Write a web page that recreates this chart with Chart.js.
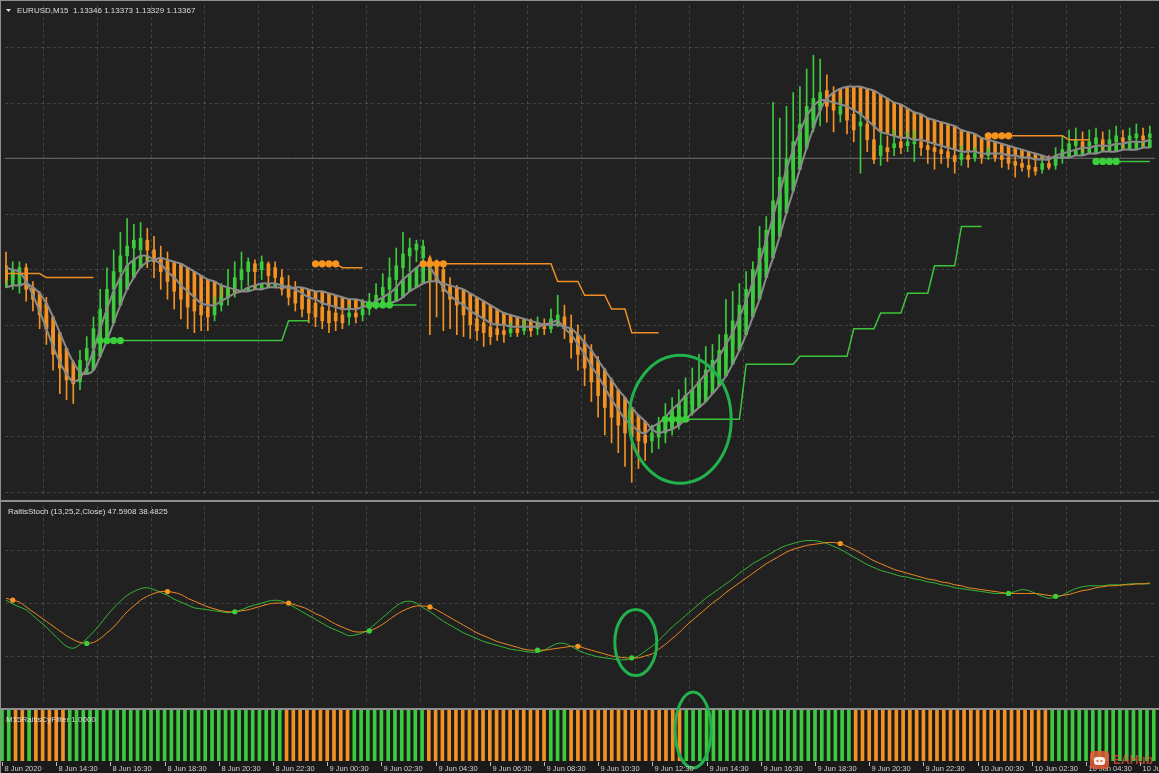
<!DOCTYPE html>
<html><head><meta charset="utf-8">
<script src="https://cdn.jsdelivr.net/npm/chart.js@4.4.0/dist/chart.umd.min.js"></script>
<style>
html,body{margin:0;padding:0;background:#8f8f8f;width:1159px;height:773px;overflow:hidden;position:relative;}
canvas{position:absolute;left:1px;}
#c1{top:1px;} #c2{top:502px;} #c3{top:688px;}
</style></head><body>
<canvas id="c1" width="1158" height="499"></canvas>
<canvas id="c2" width="1158" height="206"></canvas>
<canvas id="c3" width="1158" height="85"></canvas>
<script>
// ---------- DATA ----------
const mainTitle = "EURUSD,M15  1.13346 1.13373 1.13329 1.13367";
const stochTitle = "RaitisStoch (13,25,2,Close) 47.5908 38.4825";
const filterTitle = "M15RaitisCyFilter 1.0000";
const timeLabels = ["8 Jun 2020","8 Jun 14:30","8 Jun 16:30","8 Jun 18:30","8 Jun 20:30","8 Jun 22:30","9 Jun 00:30","9 Jun 02:30","9 Jun 04:30","9 Jun 06:30","9 Jun 08:30","9 Jun 10:30","9 Jun 12:30","9 Jun 14:30","9 Jun 16:30","9 Jun 18:30","9 Jun 20:30","9 Jun 22:30","10 Jun 00:30","10 Jun 02:30","10 Jun 04:30","10 Jun 06:30"];
const barsPerLabel = 8;

const openP = [
1.13035,1.1300,1.1302,1.1303,1.12975,1.1295,1.1291,1.12875,1.1281,1.12775,
1.1275,1.1274,1.12795,1.12825,1.12875,1.12925,1.12975,1.1302,1.1306,1.1308,
1.13075,1.1310,1.13075,1.13055,1.1303,1.13005,1.12985,1.1297,1.1295,1.12935,
1.1293,1.1291,1.12935,1.12955,1.12975,1.1300,1.1302,1.1304,1.13025,1.1304,
1.1303,1.13005,1.12985,1.1297,1.1296,1.1295,1.1294,1.1293,1.1292,1.12915,
1.1291,1.12905,1.12915,1.1291,1.12925,1.12945,1.1296,1.12975,1.1300,1.1303,
1.1306,1.13075,1.13055,1.13055,1.1304,1.13025,1.12975,1.12955,1.12945,1.1292,
1.1290,1.1289,1.1288,1.12875,1.1287,1.12865,1.12875,1.1287,1.1288,1.12875,
1.1288,1.12875,1.12895,1.12905,1.12875,1.1285,1.12825,1.12795,1.12765,1.1273,
1.1270,1.12675,1.1265,1.1263,1.1262,1.12605,1.1259,1.1260,1.1261,1.1262,
1.1264,1.1266,1.1268,1.1270,1.1272,1.1275,1.1277,1.1280,1.12835,1.12875,
1.1291,1.1295,1.13005,1.13045,1.1311,1.13175,1.1322,1.1328,1.13325,1.1336,
1.13405,1.1344,1.1348,1.1345,1.1342,1.1344,1.1342,1.1339,1.13395,1.13355,
1.13315,1.13335,1.13335,1.1335,1.1334,1.13345,1.1335,1.1334,1.13335,1.1333,
1.13325,1.13315,1.13305,1.13315,1.1331,1.1332,1.13315,1.1332,1.13315,1.1331,
1.1330,1.13295,1.1329,1.13285,1.1328,1.13295,1.1329,1.1331,1.13325,1.1334,
1.1335,1.1334,1.13345,1.13355,1.13345,1.1335,1.1336,1.13355,1.1336,1.13365,
1.1336];
const closeP = [
1.1300,1.1302,1.1303,1.12975,1.1295,1.1291,1.12875,1.1281,1.12775,1.12745,
1.12735,1.12795,1.12825,1.12875,1.12925,1.12975,1.1302,1.1306,1.13085,1.1310,
1.13105,1.13075,1.13045,1.1302,1.12995,1.1297,1.1295,1.1293,1.1292,1.1291,
1.12905,1.12935,1.12955,1.1298,1.13005,1.13025,1.13045,1.1302,1.13045,1.1301,
1.13005,1.12975,1.12955,1.1294,1.12925,1.12915,1.12905,1.12895,1.1289,1.12895,
1.1289,1.12915,1.12905,1.12925,1.12945,1.1296,1.1298,1.13005,1.13035,1.13065,
1.1308,1.1309,1.13085,1.13035,1.12995,1.1297,1.1295,1.12935,1.1291,1.12885,
1.1287,1.12865,1.12855,1.1286,1.1286,1.12875,1.12865,1.12885,1.1287,1.1288,
1.12875,1.1290,1.1291,1.12875,1.1284,1.1281,1.12775,1.1274,1.12705,1.12675,
1.1265,1.1263,1.1261,1.1260,1.1259,1.12585,1.1261,1.12625,1.1264,1.1266,
1.1268,1.12705,1.1272,1.1274,1.1277,1.12795,1.1282,1.1286,1.12895,1.12935,
1.12975,1.13025,1.1308,1.13125,1.1320,1.1326,1.13305,1.1335,1.13395,1.1344,
1.1346,1.13475,1.1344,1.1343,1.1344,1.13405,1.1338,1.1340,1.13355,1.13305,
1.1334,1.13325,1.13345,1.13335,1.1335,1.1335,1.13335,1.1333,1.13325,1.1332,
1.1331,1.1330,1.1332,1.13305,1.1332,1.1331,1.13325,1.1331,1.13305,1.13295,
1.1329,1.13285,1.1328,1.13275,1.13295,1.13285,1.1331,1.1333,1.13345,1.13355,
1.13335,1.1335,1.1336,1.1334,1.13355,1.13365,1.1335,1.13365,1.1337,1.13355,
1.1337];
const highP = [
1.1307,1.13045,1.13045,1.1304,1.12995,1.1297,1.12955,1.1290,1.1285,1.12825,
1.12795,1.1282,1.12855,1.12905,1.12975,1.1303,1.13075,1.1312,1.13155,1.1314,
1.13145,1.1313,1.1311,1.13085,1.1307,1.13045,1.1302,1.1300,1.1299,1.1297,
1.1296,1.12955,1.1299,1.13025,1.13045,1.1307,1.13055,1.1305,1.1306,1.13045,
1.13045,1.13025,1.1301,1.12995,1.1298,1.12975,1.12965,1.12955,1.1295,1.1294,
1.12935,1.12935,1.1294,1.1295,1.12965,1.1299,1.13015,1.13055,1.1308,1.1312,
1.13105,1.1310,1.1310,1.1306,1.1305,1.13045,1.13005,1.12985,1.1297,1.12955,
1.12935,1.1292,1.1291,1.12905,1.12895,1.1289,1.12895,1.1290,1.1290,1.12905,
1.1290,1.12925,1.1296,1.12935,1.1291,1.12885,1.1286,1.12835,1.12805,1.12775,
1.1275,1.1272,1.1270,1.12675,1.1265,1.12635,1.1263,1.1265,1.12685,1.1270,
1.1272,1.1275,1.12775,1.1281,1.1283,1.12835,1.1286,1.1295,1.1297,1.1299,
1.1302,1.13045,1.13135,1.1316,1.1345,1.1341,1.1344,1.13475,1.1349,1.13535,
1.1357,1.1356,1.1352,1.1349,1.1346,1.13475,1.1345,1.13425,1.13435,1.1341,
1.13375,1.13365,1.1338,1.1337,1.13375,1.1338,1.1337,1.13365,1.13355,1.1335,
1.1335,1.13345,1.1334,1.13335,1.13335,1.1334,1.13335,1.1334,1.13335,1.1333,
1.13325,1.1332,1.13315,1.1331,1.1331,1.13315,1.13335,1.13365,1.1338,1.13385,
1.13375,1.1338,1.13385,1.13375,1.1338,1.1339,1.1338,1.13385,1.13395,1.13385,
1.1339];
const lowP = [
1.1299,1.12975,1.12965,1.12945,1.1292,1.12875,1.12835,1.1277,1.1271,1.12695,
1.12685,1.1272,1.1277,1.12805,1.12855,1.1290,1.1295,1.12985,1.1303,1.13045,
1.13035,1.1303,1.13005,1.12975,1.1295,1.12925,1.1290,1.12875,1.12865,1.1287,
1.1287,1.12895,1.1292,1.12935,1.12955,1.1297,1.12985,1.12975,1.1300,1.1298,
1.1299,1.1296,1.12935,1.1292,1.12905,1.1289,1.1288,1.12875,1.12865,1.1287,
1.12875,1.12885,1.1289,1.12895,1.1291,1.12925,1.12935,1.1295,1.12975,1.12995,
1.1302,1.13045,1.1303,1.1286,1.12905,1.1287,1.12875,1.1286,1.12855,1.1285,
1.12845,1.1283,1.12835,1.12845,1.1284,1.12855,1.12855,1.1286,1.12855,1.1286,
1.1286,1.12865,1.1288,1.1285,1.1280,1.1277,1.1273,1.1269,1.1265,1.12605,
1.12585,1.1256,1.12525,1.12485,1.1252,1.1254,1.1256,1.1257,1.12585,1.12605,
1.1262,1.1264,1.12655,1.12675,1.12695,1.1272,1.1274,1.12775,1.1281,1.1284,
1.12885,1.1292,1.12975,1.1303,1.1308,1.13135,1.13175,1.1325,1.13285,1.1333,
1.13375,1.1339,1.1340,1.13375,1.1340,1.1337,1.1335,1.1327,1.13325,1.13295,
1.1329,1.1330,1.13315,1.1332,1.13325,1.1330,1.13315,1.13295,1.1328,1.13295,
1.13285,1.1327,1.1329,1.13285,1.1330,1.13295,1.13305,1.1330,1.13285,1.1328,
1.1326,1.13275,1.1326,1.13265,1.1327,1.1328,1.1328,1.13295,1.1331,1.13325,
1.13325,1.13325,1.1333,1.1333,1.1333,1.13335,1.13335,1.1334,1.1334,1.1334,
1.13345];
const fastMA = [
1.1303,1.13025,1.1302,1.12995,1.1296,1.1292,1.12875,1.1283,1.1279,1.1276,
1.1274,1.1275,1.12775,1.1282,1.12875,1.12925,1.1297,1.13005,1.13035,1.1305,
1.1306,1.1306,1.1305,1.1304,1.1302,1.13005,1.12985,1.1297,1.12955,1.1294,
1.12935,1.12935,1.12945,1.12955,1.12965,1.1297,1.1298,1.12985,1.1299,1.1299,
1.1299,1.12985,1.1298,1.12975,1.12965,1.12955,1.1295,1.1294,1.12935,1.1293,
1.12925,1.12925,1.12925,1.1293,1.12935,1.12945,1.12955,1.12965,1.1298,1.1300,
1.13015,1.1303,1.1304,1.1303,1.13005,1.1298,1.1296,1.12945,1.12935,1.1292,
1.1291,1.1290,1.1289,1.12885,1.12885,1.1288,1.1288,1.1288,1.1288,1.1288,
1.12885,1.1289,1.12895,1.12875,1.1286,1.12835,1.1281,1.1278,1.12755,1.12725,
1.12695,1.1267,1.12645,1.1263,1.12615,1.1261,1.12625,1.12635,1.1265,1.1267,
1.12685,1.12705,1.1272,1.1274,1.1276,1.1278,1.12805,1.12835,1.12865,1.12905,
1.12945,1.12995,1.13045,1.1310,1.1316,1.1322,1.1328,1.1333,1.13375,1.13415,
1.1344,1.13455,1.13455,1.1345,1.13445,1.1344,1.1343,1.1342,1.13405,1.1339,
1.13375,1.1337,1.13365,1.1336,1.1336,1.13355,1.13355,1.1335,1.13345,1.1334,
1.13335,1.1333,1.13325,1.13325,1.13325,1.1332,1.1332,1.1332,1.1332,1.13315,
1.13315,1.1331,1.1331,1.13305,1.13305,1.13305,1.13315,1.1332,1.13325,1.1333,
1.13335,1.13335,1.1334,1.1334,1.1334,1.13345,1.13345,1.1335,1.1335,1.1335,
1.13355];
const slowMA = [
1.1298,1.12985,1.12985,1.1299,1.1298,1.12965,1.1294,1.12905,1.12865,1.12825,
1.1279,1.12765,1.1276,1.1277,1.12805,1.12845,1.1289,1.12935,1.12975,1.13005,
1.1303,1.13045,1.1305,1.13055,1.1305,1.13045,1.1304,1.1303,1.1302,1.1301,
1.1300,1.12995,1.12985,1.1298,1.12975,1.1297,1.1297,1.12975,1.12975,1.1298,
1.1298,1.1298,1.1298,1.1298,1.1298,1.12975,1.1297,1.1297,1.12965,1.1296,
1.12955,1.1295,1.1295,1.12945,1.1294,1.12935,1.12935,1.1294,1.12945,1.12955,
1.1297,1.1298,1.1299,1.12995,1.12995,1.1299,1.12985,1.1298,1.12975,1.12965,
1.12955,1.12945,1.12935,1.12925,1.12915,1.1291,1.12905,1.1290,1.12895,1.1289,
1.12885,1.12885,1.12885,1.1288,1.12875,1.1286,1.1284,1.1282,1.12795,1.1277,
1.12745,1.1272,1.1270,1.12675,1.12655,1.1264,1.1262,1.1261,1.12615,1.1262,
1.1263,1.12645,1.1266,1.12675,1.1269,1.1271,1.1273,1.12755,1.12785,1.1282,
1.1286,1.12905,1.1295,1.13005,1.13055,1.1311,1.1317,1.13225,1.1328,1.13335,
1.13385,1.1343,1.1346,1.13475,1.13485,1.1349,1.1349,1.1349,1.13485,1.1348,
1.1347,1.1346,1.1345,1.13445,1.13435,1.13425,1.1342,1.1341,1.13405,1.1340,
1.13395,1.1339,1.1338,1.13375,1.1337,1.1336,1.13355,1.1335,1.13345,1.1334,
1.13335,1.1333,1.13325,1.1332,1.13315,1.1331,1.1331,1.1331,1.1331,1.13315,
1.13315,1.1332,1.1332,1.13325,1.13325,1.13325,1.1333,1.1333,1.1333,1.13335,
1.13335];
const resLevel = [
1.13015,1.13015,1.13015,1.13015,1.13015,1.13015,1.13005,1.13005,1.13005,1.13005,
1.13005,1.13005,1.13005,1.13005,null,null,null,null,null,null,
null,null,null,null,null,null,null,null,null,null,
null,null,null,null,null,null,null,null,null,null,
null,null,null,null,null,null,1.1304,1.1304,1.1304,1.1304,
1.1303,1.1303,1.1303,1.1303,null,null,null,null,null,null,
null,null,1.1304,1.1304,1.1304,1.1304,1.1304,1.1304,1.1304,1.1304,
1.1304,1.1304,1.1304,1.1304,1.1304,1.1304,1.1304,1.1304,1.1304,1.1304,
1.1304,1.1304,1.12995,1.12995,1.12995,1.12995,1.1296,1.1296,1.1296,1.1296,
1.12925,1.12925,1.12925,1.12865,1.12865,1.12865,1.12865,1.12865,null,null,
null,null,null,null,null,null,null,null,null,null,
null,null,null,null,null,null,null,null,null,null,
null,null,null,null,null,null,null,null,null,null,
null,null,null,null,null,null,null,null,null,null,
null,null,null,null,null,null,1.13365,1.13365,1.13365,1.13365,
1.13365,1.13365,1.13365,1.13365,1.13365,1.13365,1.13365,1.13365,1.13355,1.13355,
1.13355,1.13355,null,null,null,null,null,null,null,null,
null];
const supLevel = [
null,null,null,null,null,null,null,null,null,null,
null,null,null,null,1.12845,1.12845,1.12845,1.12845,1.12845,1.12845,
1.12845,1.12845,1.12845,1.12845,1.12845,1.12845,1.12845,1.12845,1.12845,1.12845,
1.12845,1.12845,1.12845,1.12845,1.12845,1.12845,1.12845,1.12845,1.12845,1.12845,
1.12845,1.12845,1.12895,1.12895,1.12895,1.12895,null,null,null,null,
null,null,null,null,1.12935,1.12935,1.12935,1.12935,1.12935,1.12935,
1.12935,1.12935,null,null,null,null,null,null,null,null,
null,null,null,null,null,null,null,null,null,null,
null,null,null,null,null,null,null,null,null,null,
null,null,null,null,null,null,null,null,1.12645,1.12645,
1.12645,1.12645,1.12645,1.12645,1.12645,1.12645,1.12645,1.12645,1.12645,1.12645,
1.12785,1.12785,1.12785,1.12785,1.12785,1.12785,1.12785,1.12785,1.12805,1.12805,
1.12805,1.12805,1.12805,1.12805,1.12805,1.12805,1.12875,1.12875,1.12875,1.12875,
1.12915,1.12915,1.12915,1.12915,1.12965,1.12965,1.12965,1.12965,1.13035,1.13035,
1.13035,1.13035,1.13135,1.13135,1.13135,1.13135,null,null,null,null,
null,null,null,null,null,null,null,null,null,null,
null,null,1.1330,1.1330,1.1330,1.1330,1.1330,1.1330,1.1330,1.1330,
1.1330];
const resDotIdx = [46,47,48,49,62,63,64,65,146,147,148,149];
const supDotIdx = [14,15,16,17,54,55,56,57,98,99,100,101,162,163,164,165];
const priceLine = 1.13308;

const stochMain = [
50,48,46.5,45,42,39,36,32.5,29,26,
25,27,30,33.5,37.5,42,46,49.5,52.5,54.5,
56,56.5,55.5,54,52.5,50.5,49,47.5,46,45.5,
45,44.5,44,43.5,44,45,46.5,47.5,48.5,49.5,
50,49.5,48,46,44,42,40,38,36,34.5,
33,31.5,32,33,35,38,41,44,47,49,
49.5,48.5,46,44,41.5,39,37,35,33,31.5,
30,28.5,27.5,26.5,25.5,24.5,24,23.5,23,23,
24,26,27.5,27.5,26,24,22.5,21.5,20.5,20,
19.5,19,19,19.5,21,23.5,26,29,32.5,36,
39,42,45,48,51,53.5,56,58.5,61,64,
66.5,69,71,73,75,77,78.5,79.5,80.5,81,
81,80.5,79.5,78,76.5,74.5,72.5,70.5,68.5,67,
65.5,64.5,63.5,62.5,62,61,60.5,59.5,59,58,
57.5,56.5,56,55.5,55,54.5,54,53.5,53.5,53.5,
54.5,55.5,55,53.5,52,51,51.5,52.5,54.5,56,
57,57.5,57.5,57.5,58,58,58,58.5,58.5,58.5,
58.5];
const stochSignal = [
51,50,49,46.5,44,41.5,39,36.5,34,31.5,
29.5,28,27.5,28,30,33,36,40,44,47,
50,52,53.5,54.5,54.5,54,53,51,49.5,48,
46.5,45.5,44.5,44,44,44.5,45,46,47,48,
48.5,48.5,48.5,47.5,46.5,45,43,41.5,39.5,37.5,
36,34.5,33.5,33.5,34,35.5,37.5,40,42.5,44.5,
46,47,47,46.5,45,43,41,39,37,35,
33,31.5,30,28.5,27.5,26.5,25.5,24.5,24,24,
24,24.5,25,25.5,26,26,25,24,23,22,
21,20.5,20,20,20,21,22,24.5,27,30,
33,36.5,39.5,42.5,45.5,48.5,51,54,56.5,59,
61.5,64,66.5,69,71,73,75,76.5,77.5,78.5,
79,79.5,80,80,79.5,78,76.5,74.5,72.5,70.5,
69,67.5,66,65,64,63,62,61,60.5,59.5,
59,58,57.5,56.5,56,55.5,55,54.5,54,53.5,
53.5,53.5,53.5,53.5,53,52.5,52,52.5,53,54,
55,55.5,56.5,57,57.5,57.5,58,58,58.5,58.5,
59];
const stochDotIdx = [1,12,24,34,42,54,63,79,85,93,124,149,156];
const stochDotUp  = [0,1,0,1,0,1,0,1,0,1,0,1,1];

const filterState = [
1,1,-1,-1,1,-1,-1,-1,-1,-1,
1,1,1,1,1,1,1,1,1,1,
1,1,1,1,1,1,1,1,1,1,
1,1,1,1,1,1,1,1,1,1,
1,1,-1,-1,-1,-1,-1,-1,-1,-1,
-1,-1,1,1,1,1,1,1,1,1,
1,1,1,-1,-1,-1,-1,-1,-1,-1,
-1,-1,-1,-1,-1,-1,-1,-1,-1,-1,
-1,1,1,1,-1,-1,-1,-1,-1,-1,
-1,-1,-1,-1,-1,-1,-1,-1,-1,-1,
-1,1,1,1,1,1,1,1,1,1,
1,1,1,1,1,1,1,1,1,1,
1,1,1,1,1,1,-1,-1,-1,-1,
-1,-1,-1,-1,-1,-1,-1,-1,-1,-1,
-1,-1,-1,-1,-1,-1,-1,-1,-1,-1,
-1,-1,-1,-1,-1,1,1,1,1,1,
1,1,1,1,1,1,1,1,1,1,
1];
const filterValue = 1.0;

// hand-drawn circle annotations (centre in data units)
const mainCircle = {bar: 100.2, value: 1.12645};
const stochCircle = {bar: 93.6, value: 28};
const filterCircle = {bar: 102, value: 0.61};

// ---------- STYLE ----------
const UP = '#3ccb3c', DN = '#f39222', BAND = '#8a8a8a';
const GRID = 'rgba(120,120,120,0.40)';
const TXT = '#dedede';
const PANEL = '#212121';
const FONT = '"Liberation Sans", Arial, sans-serif';
const xMin = -0.1476, xMax = 170.77;
const idx = closeP.map((_, i) => i);

const bgPlugin = {
  id: 'panelBg',
  beforeDraw(chart, args, o) {
    const {ctx, chartArea: a, scales} = chart;
    ctx.save();
    if (o.full) { ctx.fillStyle = o.color; ctx.fillRect(0, 0, chart.width, chart.height); }
    else {
      if (o.strip) { ctx.fillStyle = o.strip; ctx.fillRect(0, a.bottom, chart.width, chart.height - a.bottom); }
      ctx.fillStyle = o.color;
      ctx.fillRect(a.left, a.top, a.right - a.left, a.bottom - a.top);
    }
    if (o.grid) {
      ctx.strokeStyle = GRID; ctx.lineWidth = 1; ctx.setLineDash([3, 3]);
      for (let v = 5.5; v < xMax; v += 8) {
        const x = Math.round(scales.x.getPixelForValue(v)) + 0.5;
        ctx.beginPath(); ctx.moveTo(x, a.top); ctx.lineTo(x, a.bottom); ctx.stroke();
      }
      o.gridY.forEach(v => {
        const y = Math.round(scales.y.getPixelForValue(v)) + 0.5;
        ctx.beginPath(); ctx.moveTo(a.left, y); ctx.lineTo(a.right, y); ctx.stroke();
      });
      ctx.setLineDash([]);
    }
    ctx.restore();
  }
};
const overlayPlugin = {
  id: 'overlay',
  afterDraw(chart, args, o) {
    const {ctx, chartArea: a, scales} = chart;
    ctx.save();
    if (o.circle) {
      const cx = scales.x.getPixelForValue(o.circle.bar);
      const cy = scales.y.getPixelForValue(o.circle.value);
      ctx.beginPath();
      ctx.ellipse(cx, cy, o.rx, o.ry, 0, 0, Math.PI * 2);
      ctx.strokeStyle = '#22b14c'; ctx.lineWidth = 3; ctx.stroke();
    }
    if (o.labels) {
      ctx.font = '7.5px ' + FONT; ctx.fillStyle = '#d0d0d0';
      ctx.textBaseline = 'middle'; ctx.textAlign = 'left';
      ctx.strokeStyle = '#bdbdbd'; ctx.lineWidth = 1;
      o.labels.forEach((lab, k) => {
        const x = Math.round(scales.x.getPixelForValue(k * barsPerLabel)) + 0.5;
        ctx.beginPath(); ctx.moveTo(x, a.bottom + 1); ctx.lineTo(x, a.bottom + 5); ctx.stroke();
        ctx.fillText(lab, x + 2, a.bottom + 8);
      });
    }
    if (o.watermark) {
      const wx = 1089, wy = 751 - 688;
      ctx.fillStyle = 'rgba(228,92,58,0.85)';
      ctx.beginPath(); ctx.roundRect(wx, wy, 19, 18, 4); ctx.fill();
      ctx.fillStyle = 'rgba(255,255,255,0.9)';
      ctx.beginPath(); ctx.roundRect(wx + 4, wy + 6, 11, 8, 3); ctx.fill();
      ctx.fillStyle = 'rgba(228,92,58,0.85)';
      ctx.fillRect(wx + 6.5, wy + 9, 2, 2); ctx.fillRect(wx + 10.5, wy + 9, 2, 2);
      ctx.font = 'bold 12px ' + FONT; ctx.fillStyle = 'rgba(230,95,60,0.7)';
      ctx.textBaseline = 'middle'; ctx.textAlign = 'left';
      ctx.fillText('EAHub', wx + 23, wy + 10);
    }
    if (o.title) {
      ctx.font = '8px ' + FONT; ctx.fillStyle = o.titleColor || TXT;
      ctx.textBaseline = 'middle'; ctx.textAlign = 'left';
      ctx.fillText(o.title, o.tx, o.ty);
    }
    if (o.triangle) {
      ctx.fillStyle = TXT; ctx.beginPath();
      ctx.moveTo(5, 8); ctx.lineTo(10, 8); ctx.lineTo(7.5, 11); ctx.closePath(); ctx.fill();
    }
    ctx.restore();
  }
};
const xAxis = {type: 'linear', min: xMin, max: xMax, offset: false, display: false, grid: {offset: false}};
const baseOpts = {
  responsive: false, animation: false, devicePixelRatio: 1, events: [],
  layout: {padding: 0}
};
const mainGridY = [];
for (let k = -7; k <= 7; k++) mainGridY.push(priceLine + k * 0.0014125);

// ---------- MAIN PRICE PANEL ----------
const stripes = idx.map(i => ({x: i, y: [fastMA[i], slowMA[i]]}));
const stripeCol = idx.map(i => fastMA[i] >= slowMA[i] ? UP : DN);
const wicks = idx.map(i => ({x: i, y: [lowP[i], highP[i]]}));
const bodies = idx.map(i => ({x: i, y: [openP[i], closeP[i]]}));
const candleCol = idx.map(i => closeP[i] >= openP[i] ? UP : DN);

new Chart(document.getElementById('c1'), {
  type: 'bar',
  data: {datasets: [
    {type: 'line', data: [{x: xMin, y: priceLine}, {x: xMax, y: priceLine}], borderColor: '#6e6e6e', borderWidth: 1, pointRadius: 0, order: 20},
    {data: stripes, backgroundColor: stripeCol, barThickness: 3, grouped: false, minBarLength: 1, order: 10},
    {data: wicks, backgroundColor: candleCol, barThickness: 1, grouped: false, order: 9},
    {data: bodies, backgroundColor: candleCol, barThickness: 3, grouped: false, minBarLength: 1, order: 8},
    {type: 'line', data: idx.map(i => ({x: i, y: slowMA[i]})), borderColor: BAND, borderWidth: 2, pointRadius: 0, tension: 0.3, order: 6},
    {type: 'line', data: idx.map(i => ({x: i, y: fastMA[i]})), borderColor: BAND, borderWidth: 2, pointRadius: 0, tension: 0.3, order: 6},
    {type: 'line', data: idx.map(i => ({x: i, y: resLevel[i]})), borderColor: '#ef8e24', borderWidth: 1.5, pointRadius: 0, spanGaps: false, order: 4},
    {type: 'line', data: idx.map(i => ({x: i, y: supLevel[i]})), borderColor: '#3cc43c', borderWidth: 1.5, pointRadius: 0, spanGaps: false, order: 4},
    {type: 'line', data: resDotIdx.map(i => ({x: i, y: resLevel[i]})), showLine: false, pointRadius: 3.6, pointBackgroundColor: '#f7941d', pointBorderWidth: 0, order: 2},
    {type: 'line', data: supDotIdx.map(i => ({x: i, y: supLevel[i]})), showLine: false, pointRadius: 3.6, pointBackgroundColor: '#3ccf3c', pointBorderWidth: 0, order: 2}
  ]},
  options: Object.assign({}, baseOpts, {
    plugins: {legend: {display: false}, tooltip: {enabled: false},
      panelBg: {color: PANEL, full: true, grid: true, gridY: mainGridY},
      overlay: {title: mainTitle, tx: 16, ty: 10, triangle: true, circle: mainCircle, rx: 51, ry: 64}},
    scales: {
      x: xAxis,
      y: {type: 'linear', min: 1.1245, max: 1.136975, display: false}
    }
  }),
  plugins: [bgPlugin, overlayPlugin]
});

// ---------- STOCH PANEL ----------
new Chart(document.getElementById('c2'), {
  type: 'line',
  data: {datasets: [
    {data: stochDotIdx.map(i => ({x: i, y: stochSignal[i]})), showLine: false, pointRadius: 2.6, pointBorderWidth: 0,
      pointBackgroundColor: stochDotUp.map(u => u ? '#3ccf3c' : '#f7941d'), order: 1},
    {data: idx.map(i => ({x: i, y: stochSignal[i]})), borderColor: '#ee8a22', borderWidth: 1, pointRadius: 0, tension: 0.3, order: 3},
    {data: idx.map(i => ({x: i, y: stochMain[i]})), borderColor: '#34b834', borderWidth: 1, pointRadius: 0, tension: 0.3, order: 4}
  ]},
  options: Object.assign({}, baseOpts, {
    plugins: {legend: {display: false}, tooltip: {enabled: false},
      panelBg: {color: PANEL, full: true, grid: true, gridY: [21, 48.5, 76]},
      overlay: {title: stochTitle, tx: 7, ty: 10, circle: stochCircle, rx: 21, ry: 33}},
    scales: {
      x: xAxis,
      y: {type: 'linear', min: -4, max: 99, display: false}
    }
  }),
  plugins: [bgPlugin, overlayPlugin]
});

// ---------- FILTER PANEL ----------
new Chart(document.getElementById('c3'), {
  type: 'bar',
  data: {datasets: [
    {data: idx.map(i => ({x: i, y: filterValue})), backgroundColor: filterState.map(s => s > 0 ? UP : DN), barThickness: 3, grouped: false}
  ]},
  options: Object.assign({}, baseOpts, {
    layout: {padding: {top: 22, bottom: 12, left: 0, right: 0}},
    plugins: {legend: {display: false}, tooltip: {enabled: false},
      panelBg: {color: '#1c1c1c', strip: '#1a1a1a'},
      overlay: {title: filterTitle, tx: 5, ty: 32, titleColor: 'rgba(235,235,235,0.85)', labels: timeLabels, watermark: true, circle: filterCircle, rx: 18, ry: 38}},
    scales: {
      x: xAxis,
      y: {type: 'linear', min: 0, max: 1, display: false}
    }
  }),
  plugins: [bgPlugin, overlayPlugin]
});
</script>
</body></html>
